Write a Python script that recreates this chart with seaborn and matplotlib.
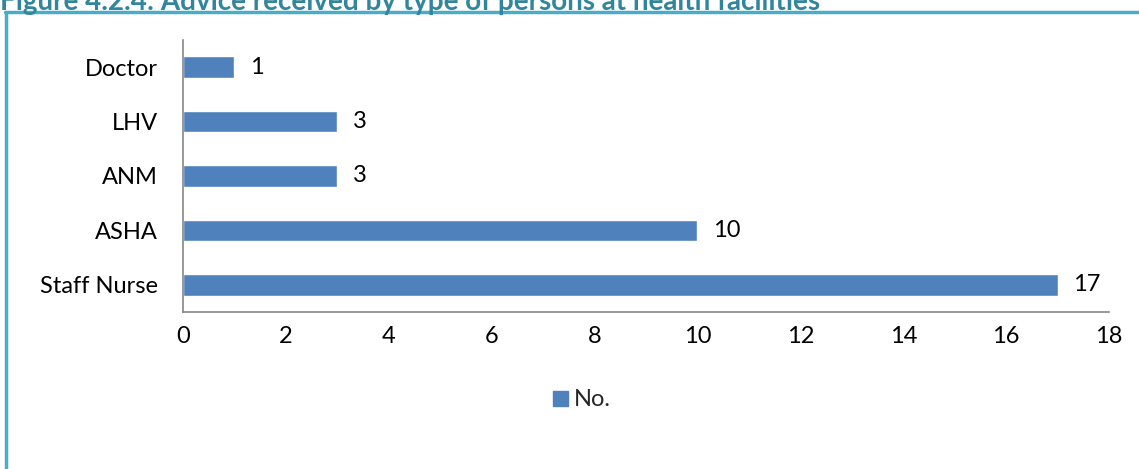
import matplotlib
matplotlib.use("Agg")
import matplotlib.pyplot as plt
from matplotlib.lines import Line2D
from matplotlib.patches import Patch
import numpy as np
import pandas as pd
import seaborn as sns

# Advice received, by type of person
categories = ["Doctor", "LHV", "ANM", "ASHA", "Staff Nurse"]
counts = [1, 3, 3, 10, 17]
series_name = "No."
x_ticks = [0, 2, 4, 6, 8, 10, 12, 14, 16, 18]
title = "Figure 4.2.4: Advice received by type of persons at health facilities"

sns.set_theme(style="white")
plt.rcParams["font.family"] = ["Lato", "DejaVu Sans"]

BAR = "#4F81BD"
FRAME = "#4BACC6"
AXIS = "#868686"
TEXT = "#000000"
FS = 17

df = pd.DataFrame({"person": categories, "count": counts})

fig = plt.figure(figsize=(11.39, 4.69), dpi=100)
ax = fig.add_axes([183 / 1139, 1 - 312 / 469, (1109 - 183) / 1139, (312 - 40) / 469])

sns.barplot(data=df, x="count", y="person", order=categories, color=BAR,
            width=0.4, saturation=1, ax=ax, orient="h")

ax.set_xlim(0, 18)
ax.set_ylim(len(categories) - 0.5, -0.5)
ax.set_xlabel("")
ax.set_ylabel("")

# Value labels to the right of each bar
for i, v in enumerate(counts):
    ax.text(v + 0.3, i, f"{v}", va="center", ha="left", fontsize=FS, color=TEXT)

# Axis styling: only left and bottom lines, ticks between categories
for s in ["top", "right"]:
    ax.spines[s].set_visible(False)
for s in ["left", "bottom"]:
    ax.spines[s].set_color(AXIS)
    ax.spines[s].set_linewidth(1.2)

ax.set_xticks(x_ticks)
ax.set_xticklabels([str(t) for t in x_ticks], fontsize=FS, color=TEXT)
ax.tick_params(axis="x", direction="out", length=7, width=1.2, color=AXIS, pad=3)

ax.set_yticks(range(len(categories)))
ax.set_yticklabels(categories, fontsize=FS, color=TEXT)
ax.tick_params(axis="y", which="major", length=0, pad=18)
ax.set_yticks(np.arange(-0.5, len(categories), 1.0), minor=True)
ax.tick_params(axis="y", which="minor", direction="out", length=7, width=1.2, color=AXIS)

# Legend below the axis
handle = Patch(facecolor=BAR, edgecolor=BAR, label=series_name)
fig.legend(handles=[handle], loc="center", bbox_to_anchor=(582 / 1139, 1 - 400 / 469),
           frameon=False, fontsize=FS, handlelength=0.6, handleheight=0.6,
           handletextpad=0.25)

# Frame lines of the figure box and the clipped caption above it
fig.add_artist(Line2D([4.5 / 1139, 1], [1 - 12.5 / 469] * 2, color=FRAME, lw=2.5,
                      transform=fig.transFigure))
fig.add_artist(Line2D([5.5 / 1139] * 2, [0, 1 - 12.5 / 469], color=FRAME, lw=2.5,
                      transform=fig.transFigure))
fig.text(0, 1 - 2 / 469, title, ha="left", va="center", fontsize=20,
         fontweight="bold", color="#31859C")

fig.savefig("out.png", dpi=100)
